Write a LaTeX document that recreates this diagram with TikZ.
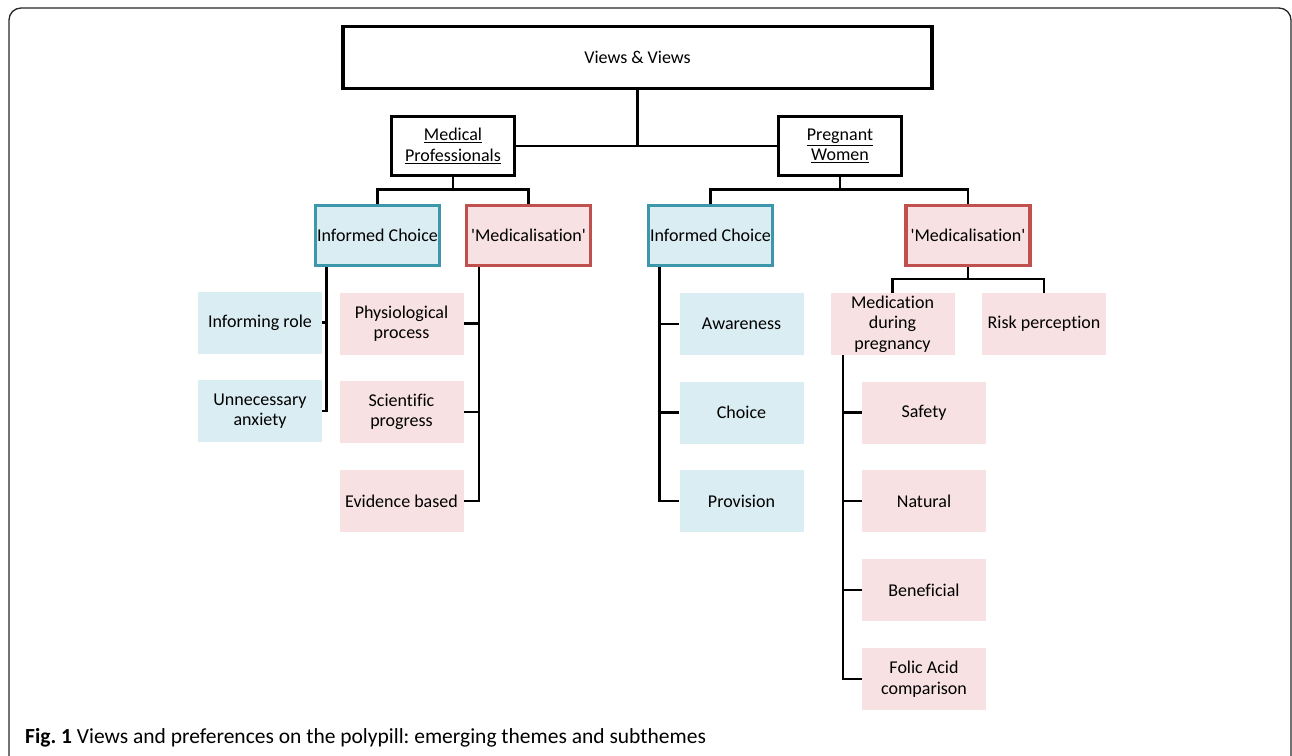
\documentclass[tikz,border=0pt]{standalone}
\usepackage{fontspec}
\setmainfont[Ligatures=NoCommon]{Carlito}
\usetikzlibrary{calc}
\definecolor{icblue}{HTML}{3D97AB}
\definecolor{icfill}{HTML}{DAEDF2}
\definecolor{mdred}{HTML}{C0504D}
\definecolor{mdfill}{HTML}{F7E1E2}
\tikzset{
  base/.style={inner sep=0pt, align=center, font=\fontsize{18}{20.5}\selectfont},
  topbox/.style={base, draw=black, line width=3.8pt},
  bluehead/.style={base, draw=icblue, fill=icfill, line width=3.2pt, minimum width=124pt, minimum height=60pt},
  redhead/.style={base, draw=mdred, fill=mdfill, line width=3.2pt, minimum width=124pt, minimum height=60pt},
  bluesub/.style={base, fill=icfill, minimum width=124pt, minimum height=62pt},
  redsub/.style={base, fill=mdfill, minimum width=124pt, minimum height=62pt},
  conn/.style={line width=2.2pt, black},
}
\newcommand{\sq}{\textquotesingle}
\frenchspacing
\begin{document}
\begin{tikzpicture}[x=1pt,y=-1pt]
\useasboundingbox (0,0) rectangle (1292,755);
\begin{scope}
\clip (0,0) rectangle (1292,755);
\draw[line width=1.3pt, black!85, rounded corners=12pt] (9,8) rectangle (1291,790);
\end{scope}

% top level
\node[topbox, minimum width=589pt, minimum height=62pt] (top) at (637.5,57.5) {Views \& Views};
\node[topbox, minimum width=123pt, minimum height=59pt] (mp) at (453,146) {\underline{Medical}\\\underline{Professionals}};
\node[topbox, minimum width=123pt, minimum height=59pt] (pw) at (840,146) {\underline{Pregnant}\\\underline{Women}};

% second level
\node[bluehead] (icL) at (377.5,235.5) {Informed Choice};
\node[redhead] (mdL) at (528.5,235.5) {\sq Medicalisation\sq};
\node[bluehead] (icR) at (710.5,235.5) {Informed Choice};
\node[redhead] (mdR) at (968,235.5) {\sq Medicalisation\sq};

% left subthemes
\node[bluesub] (ir) at (260,322.5) {Informing role};
\node[bluesub] (ua) at (260,411) {Unnecessary\\anxiety};
\node[redsub] (pp) at (401.5,323.5) {Physiological\\process};
\node[redsub] (sp) at (401.5,412) {Scientific\\progress};
\node[redsub] (eb) at (401.5,501) {Evidence based};

% right informed choice subthemes
\node[bluesub] (aw) at (741.5,324) {Awareness};
\node[bluesub] (ch) at (741.5,412.5) {Choice};
\node[bluesub] (pr) at (741.5,501) {Provision};

% right medicalisation subthemes
\node[redsub] (mdp) at (892.5,324) {Medication\\during\\pregnancy};
\node[redsub] (rp) at (1044,324) {Risk perception};
\node[redsub] (sa) at (924,412.5) {Safety};
\node[redsub] (na) at (924,501) {Natural};
\node[redsub] (be) at (924,590) {Beneficial};
\node[redsub] (fa) at (924,679) {Folic Acid\\comparison};

% connectors
\draw[conn] (top.south) -- (top.south |- mp.east);
\draw[conn] (mp.east) -- (pw.west);

\draw[conn] (mp.south) -- ++(0,12) -| (icL.north);
\draw[conn] (mp.south) -- ++(0,12) -| (mdL.north);
\draw[conn] (pw.south) -- ++(0,12) -| (icR.north);
\draw[conn] (pw.south) -- ++(0,12) -| (mdR.north);

\draw[conn] ([xshift=12.5pt]icL.south west) |- (ir.east);
\draw[conn] ([xshift=12.5pt]icL.south west) |- (ua.east);

\draw[conn] ([xshift=14pt]mdL.south west) |- (pp.east);
\draw[conn] ([xshift=14pt]mdL.south west) |- (sp.east);
\draw[conn] ([xshift=14pt]mdL.south west) |- (eb.east);

\draw[conn] ([xshift=12.5pt]icR.south west) |- (aw.west);
\draw[conn] ([xshift=12.5pt]icR.south west) |- (ch.west);
\draw[conn] ([xshift=12.5pt]icR.south west) |- (pr.west);

\draw[conn] (mdR.south) -- ++(0,12) -| (mdp.north);
\draw[conn] (mdR.south) -- ++(0,12) -| (rp.north);

\draw[conn] ([xshift=13pt]mdp.south west) |- (sa.west);
\draw[conn] ([xshift=13pt]mdp.south west) |- (na.west);
\draw[conn] ([xshift=13pt]mdp.south west) |- (be.west);
\draw[conn] ([xshift=13pt]mdp.south west) |- (fa.west);

% caption
\node[anchor=base west, inner sep=0pt, font=\fontsize{21.5}{24}\selectfont] (cap) at (25,743)
  {\textbf{Fig. 1} Views and preferences on the polypill: emerging themes and subthemes};
\end{tikzpicture}
\end{document}
